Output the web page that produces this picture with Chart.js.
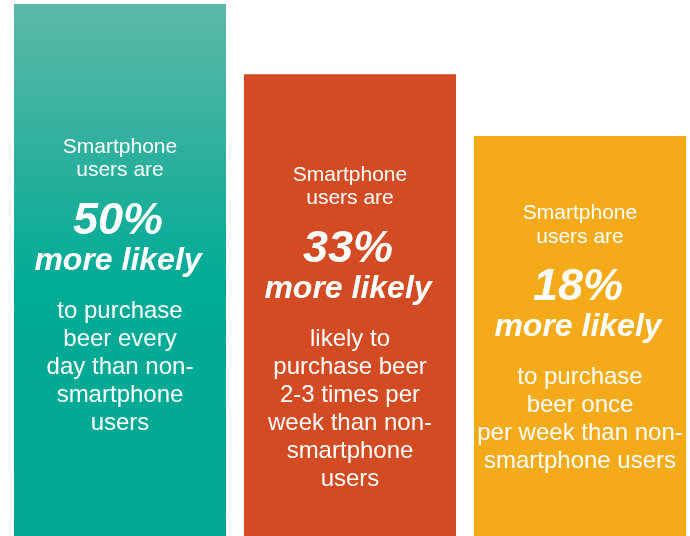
<!DOCTYPE html>
<html>
<head>
<meta charset="utf-8">
<script src="https://cdn.jsdelivr.net/npm/chart.js@4/dist/chart.umd.min.js"></script>
<style>
    html, body { margin: 0; padding: 0; background: #fff; overflow: hidden; }
    #wrap { position: absolute; left: 5px; top: 0; width: 690px; height: 536px; }
</style>
</head>
<body>
<div id="wrap"><canvas id="likelyChart"></canvas></div>
<script>
// purchase frequency groups and how much more likely smartphone users are (%)
const categories = ['Every day', '2-3 times per week', 'Once per week'];
const liftPct = [50, 33, 18];

// text inside the bars
const introLines = ['Smartphone', 'users are'];
const headline = 'more likely';
const detailLines = [
    ['to purchase', 'beer every', 'day than non-', 'smartphone', 'users'],
    ['likely to', 'purchase beer', '2-3 times per', 'week than non-', 'smartphone', 'users'],
    ['to purchase', 'beer once', 'per week than non-', 'smartphone users']
];

const barColors = ['#00a995', '#d34b23', '#f5ab19'];
// distance from the bar top to the first text line
const textOffsets = [148.5, 106.5, 83];

const yMin = -79;
const yMax = 51;

function tealGradient(context) {
    const chart = context.chart;
    const area = chart.chartArea;
    if (!area) return barColors[0];
    const top = chart.scales.y.getPixelForValue(liftPct[0]);
    const g = chart.ctx.createLinearGradient(0, top, 0, area.bottom);
    g.addColorStop(0, '#5db9a9');
    g.addColorStop(0.25, '#33b19e');
    g.addColorStop(0.52, '#02ab96');
    g.addColorStop(1, '#00a893');
    return g;
}

const barText = {
    id: 'barText',
    afterDatasetsDraw(chart) {
        const ctx = chart.ctx;
        const meta = chart.getDatasetMeta(0);
        ctx.save();
        ctx.fillStyle = '#ffffff';
        ctx.textAlign = 'center';
        ctx.textBaseline = 'alphabetic';
        meta.data.forEach((bar, i) => {
            const x = bar.x;
            const y = bar.y + textOffsets[i];

            ctx.font = '21px "Liberation Sans", Arial, sans-serif';
            ctx.fillText(introLines[0], x, y);
            ctx.fillText(introLines[1], x, y + 23.5);

            ctx.font = 'italic bold 45px "Liberation Sans", Arial, sans-serif';
            ctx.fillText(liftPct[i] + '%', x - 2, y + 81);

            ctx.font = 'italic bold 32px "Liberation Sans", Arial, sans-serif';
            ctx.fillText(headline, x - 2, y + 117);

            ctx.font = '24px "Liberation Sans", Arial, sans-serif';
            detailLines[i].forEach((line, j) => {
                ctx.fillText(line, x, y + 165 + j * 28);
            });
        });
        ctx.restore();
    }
};

new Chart(document.getElementById('likelyChart'), {
    type: 'bar',
    data: {
        labels: categories,
        datasets: [{
            data: liftPct,
            base: yMin,
            backgroundColor: (context) => context.dataIndex === 0 ? tealGradient(context) : barColors[context.dataIndex],
            borderWidth: 0,
            categoryPercentage: 1,
            barPercentage: 0.922
        }]
    },
    options: {
        responsive: true,
        maintainAspectRatio: false,
        animation: false,
        layout: { padding: 0 },
        scales: {
            x: { display: false },
            y: { display: false, min: yMin, max: yMax }
        },
        plugins: {
            legend: { display: false },
            tooltip: { enabled: false }
        }
    },
    plugins: [barText]
});
</script>
</body>
</html>
